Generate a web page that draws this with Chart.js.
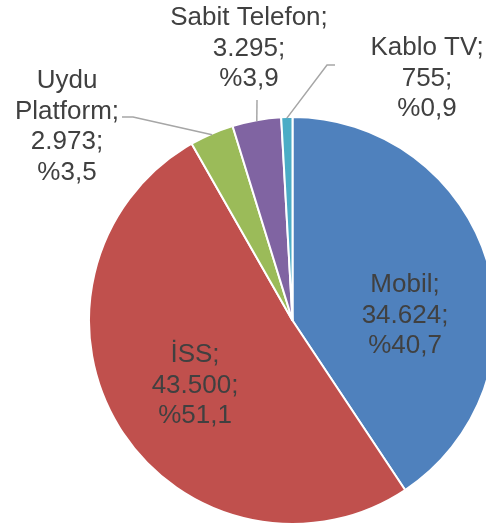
<!DOCTYPE html>
<html>
<head>
<meta charset="utf-8">
<script src="https://cdn.jsdelivr.net/npm/chart.js@4/dist/chart.umd.min.js"></script>
<style>
  html, body { margin: 0; padding: 0; background: #fff; overflow: hidden; }
  #wrap { width: 486px; height: 528px; overflow: hidden; }
</style>
</head>
<body>
<div id="wrap"><canvas id="pieChart" width="506" height="528"></canvas></div>
<script>
// Data
const categories = ['Mobil', 'İSS', ['Uydu', 'Platform'], 'Sabit Telefon', 'Kablo TV'];
const subscribers = [34624, 43500, 2973, 3295, 755];
const sliceColors = ['#4f81bd', '#c0504d', '#9bbb59', '#8064a2', '#4bacc6'];

// where each label sits (text centre x, first baseline y) and optional leader line elbow
const labelSpots = [
  { x: 405, y: 292 },
  { x: 195, y: 362 },
  { x: 67, y: 88, leader: [[133, 117], [122, 117]] },
  { x: 249, y: 25, leader: [[257, 100]] },
  { x: 427, y: 55, leader: [[327, 65], [335, 65]] }
];

const total = subscribers.reduce((a, b) => a + b, 0);

function fmtNumber(n) {
  return String(n).replace(/\B(?=(\d{3})+(?!\d))/g, '.');
}

function fmtPct(n) {
  return '%' + (n / total * 100).toFixed(1).replace('.', ',');
}

const pieLabels = {
  id: 'pieLabels',
  afterDatasetsDraw(chart) {
    const ctx = chart.ctx;
    const meta = chart.getDatasetMeta(0);
    ctx.save();

    meta.data.forEach((arc, i) => {
      const spot = labelSpots[i];
      if (spot.leader) {
        const p = arc.getProps(['x', 'y', 'startAngle', 'endAngle', 'outerRadius'], true);
        const mid = (p.startAngle + p.endAngle) / 2;
        const r = p.outerRadius - 1;
        ctx.beginPath();
        ctx.moveTo(p.x + Math.cos(mid) * r, p.y + Math.sin(mid) * r);
        spot.leader.forEach(pt => ctx.lineTo(pt[0], pt[1]));
        ctx.strokeStyle = '#a6a6a6';
        ctx.lineWidth = 1.5;
        ctx.stroke();
      }

      const name = categories[i];
      const lines = Array.isArray(name) ? [...name] : [name];
      lines[lines.length - 1] += ';';
      lines.push(fmtNumber(subscribers[i]) + ';');
      lines.push(fmtPct(subscribers[i]));

      ctx.fillStyle = '#404040';
      ctx.font = '26px "Liberation Sans", Arial, sans-serif';
      ctx.textAlign = 'center';
      ctx.textBaseline = 'alphabetic';
      lines.forEach((line, j) => {
        ctx.fillText(line, spot.x, spot.y + j * 30.5);
      });
    });

    ctx.restore();
  }
};

new Chart(document.getElementById('pieChart'), {
  type: 'pie',
  data: {
    labels: categories,
    datasets: [{
      data: subscribers,
      backgroundColor: sliceColors,
      borderColor: '#ffffff',
      borderWidth: 2
    }]
  },
  options: {
    responsive: false,
    animation: false,
    layout: {
      padding: { left: 88, right: 9, top: 116, bottom: 3 }
    },
    plugins: {
      legend: { display: false },
      tooltip: { enabled: false }
    }
  },
  plugins: [pieLabels]
});
</script>
</body>
</html>
